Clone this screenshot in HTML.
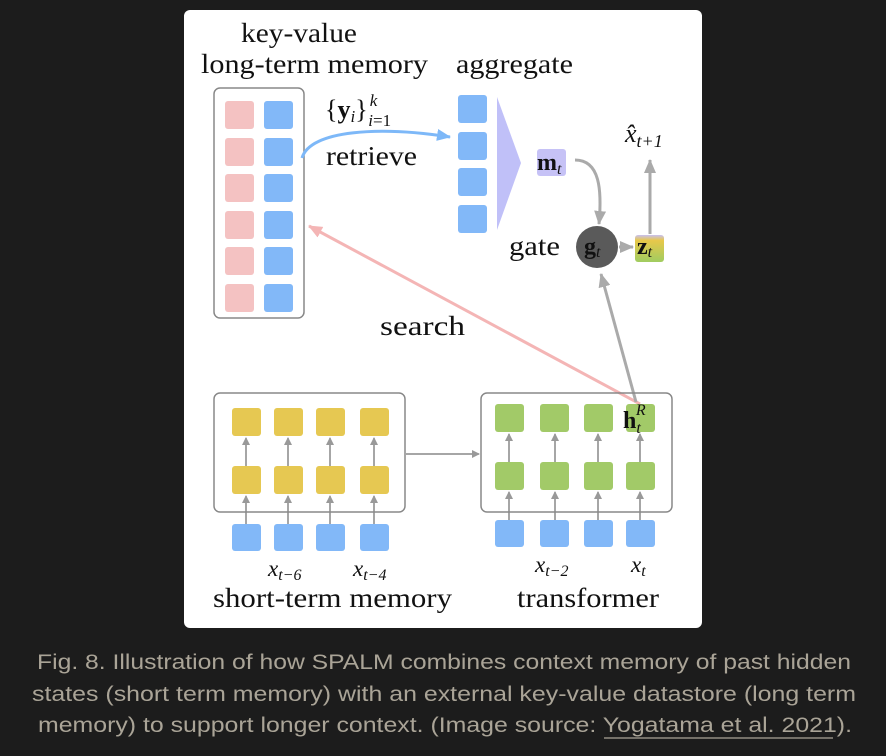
<!DOCTYPE html>
<html><head><meta charset="utf-8"><style>
html,body{margin:0;padding:0;background:#1c1c1c;}
svg{display:block}
.s{font-family:"Liberation Serif",serif;fill:#111}
.c{font-family:"Liberation Sans",sans-serif;fill:#aaa497;font-size:21px}
</style></head><body>
<svg width="886" height="756" viewBox="0 0 886 756" xmlns="http://www.w3.org/2000/svg">
<defs>
<marker id="ag" markerWidth="8" markerHeight="8" refX="7" refY="4" orient="auto" markerUnits="userSpaceOnUse"><path d="M0,0 L8,4 L0,8z" fill="#999"/></marker>
<marker id="agL" markerWidth="14" markerHeight="12" refX="13" refY="6" orient="auto" markerUnits="userSpaceOnUse"><path d="M0,0 L14,6 L0,12z" fill="#aaa"/></marker>
<marker id="ab" markerWidth="14" markerHeight="12" refX="13" refY="6" orient="auto" markerUnits="userSpaceOnUse"><path d="M0,0 L14,6 L0,12z" fill="#7db8f8"/></marker>
<marker id="ap" markerWidth="14" markerHeight="12" refX="13" refY="6" orient="auto" markerUnits="userSpaceOnUse"><path d="M0,0 L14,6 L0,12z" fill="#f4b5b5"/></marker>
<linearGradient id="zg" x1="0" y1="0" x2="0" y2="1"><stop offset="0" stop-color="#c8c0f0"/><stop offset="0.2" stop-color="#e8c84a"/><stop offset="1" stop-color="#a0cc60"/></linearGradient>
</defs>
<rect x="184" y="10" width="518" height="618" rx="6" fill="#fff"/>
<text class="s" x="241" y="42" font-size="27" textLength="116" lengthAdjust="spacingAndGlyphs">key-value</text>
<text class="s" x="201" y="73" font-size="27" textLength="227" lengthAdjust="spacingAndGlyphs">long-term memory</text>
<text class="s" x="456" y="73" font-size="27" textLength="117" lengthAdjust="spacingAndGlyphs">aggregate</text>
<rect x="214" y="88" width="90" height="230" rx="6" fill="none" stroke="#888" stroke-width="1.5"/>
<g fill="#f4c2c2">
<rect x="225" y="101" width="29" height="28" rx="3"/><rect x="225" y="138" width="29" height="28" rx="3"/><rect x="225" y="174" width="29" height="28" rx="3"/><rect x="225" y="211" width="29" height="28" rx="3"/><rect x="225" y="247" width="29" height="28" rx="3"/><rect x="225" y="284" width="29" height="28" rx="3"/></g>
<g fill="#82b8f8">
<rect x="264" y="101" width="29" height="28" rx="3"/><rect x="264" y="138" width="29" height="28" rx="3"/><rect x="264" y="174" width="29" height="28" rx="3"/><rect x="264" y="211" width="29" height="28" rx="3"/><rect x="264" y="247" width="29" height="28" rx="3"/><rect x="264" y="284" width="29" height="28" rx="3"/>
<rect x="458" y="95" width="29" height="28" rx="3"/><rect x="458" y="132" width="29" height="28" rx="3"/><rect x="458" y="168" width="29" height="28" rx="3"/><rect x="458" y="205" width="29" height="28" rx="3"/></g>
<polygon points="497,97 521,163 497,230" fill="#c0c0f8"/>
<rect x="537" y="149" width="29" height="27" rx="3" fill="#c6c2f6"/>
<text class="s" x="537" y="170" font-size="24" font-weight="bold">m<tspan font-size="16" font-style="italic" font-weight="normal" dy="4">t</tspan></text>
<path d="M302,158 C310,130 380,126 450,137" fill="none" stroke="#7db8f8" stroke-width="3" marker-end="url(#ab)"/>
<text class="s" x="325" y="118" font-size="26">{<tspan font-weight="bold">y</tspan><tspan font-style="italic" font-size="17" dy="4">i</tspan><tspan dy="-4">}</tspan><tspan font-style="italic" font-size="17" dx="2" dy="-12">k</tspan><tspan font-style="italic" font-size="17" dx="-9" dy="20">i</tspan><tspan font-size="17">=1</tspan></text>
<text class="s" x="326" y="165" font-size="27" textLength="91" lengthAdjust="spacingAndGlyphs">retrieve</text>
<text class="s" x="509" y="255" font-size="27" textLength="51" lengthAdjust="spacingAndGlyphs">gate</text>
<circle cx="597" cy="247" r="21" fill="#5a5a5a"/>
<text class="s" x="584" y="254" font-size="24" font-weight="bold" fill="#111">g<tspan font-size="16" font-style="italic" font-weight="normal" dy="3">t</tspan></text>
<rect x="635" y="235" width="29" height="27" rx="3" fill="url(#zg)"/>
<text class="s" x="637" y="254" font-size="24" font-weight="bold">z<tspan font-size="16" font-style="italic" font-weight="normal" dy="3">t</tspan></text>
<path d="M575,160 C600,160 602,190 599,224" fill="none" stroke="#aaa" stroke-width="3" marker-end="url(#agL)"/>
<line x1="619" y1="247" x2="633" y2="247" stroke="#aaa" stroke-width="3" marker-end="url(#agL)"/>
<line x1="650" y1="234" x2="650" y2="160" stroke="#aaa" stroke-width="3" marker-end="url(#agL)"/>
<text class="s" x="625" y="142" font-size="26" font-style="italic">x̂<tspan font-size="18" dy="5">t+1</tspan></text>
<line x1="640" y1="404" x2="309" y2="226" stroke="#f4b5b5" stroke-width="3" marker-end="url(#ap)"/>
<line x1="636" y1="402" x2="601" y2="274" stroke="#aaa" stroke-width="3" marker-end="url(#agL)"/>
<text class="s" x="380" y="335" font-size="27" textLength="85" lengthAdjust="spacingAndGlyphs">search</text>
<rect x="214" y="393" width="191" height="119" rx="6" fill="none" stroke="#888" stroke-width="1.5"/>
<rect x="481" y="393" width="191" height="119" rx="6" fill="none" stroke="#888" stroke-width="1.5"/>
<line x1="406" y1="454" x2="479" y2="454" stroke="#888" stroke-width="1.5" marker-end="url(#ag)"/>
<g fill="#e6c852">
<rect x="232" y="408" width="29" height="28" rx="3"/><rect x="274" y="408" width="29" height="28" rx="3"/><rect x="316" y="408" width="29" height="28" rx="3"/><rect x="360" y="408" width="29" height="28" rx="3"/>
<rect x="232" y="466" width="29" height="28" rx="3"/><rect x="274" y="466" width="29" height="28" rx="3"/><rect x="316" y="466" width="29" height="28" rx="3"/><rect x="360" y="466" width="29" height="28" rx="3"/></g>
<g fill="#a2ca68">
<rect x="495" y="404" width="29" height="28" rx="3"/><rect x="540" y="404" width="29" height="28" rx="3"/><rect x="584" y="404" width="29" height="28" rx="3"/><rect x="626" y="404" width="29" height="28" rx="3"/>
<rect x="495" y="462" width="29" height="28" rx="3"/><rect x="540" y="462" width="29" height="28" rx="3"/><rect x="584" y="462" width="29" height="28" rx="3"/><rect x="626" y="462" width="29" height="28" rx="3"/></g>
<g fill="#82b8f8">
<rect x="232" y="524" width="29" height="27" rx="3"/><rect x="274" y="524" width="29" height="27" rx="3"/><rect x="316" y="524" width="29" height="27" rx="3"/><rect x="360" y="524" width="29" height="27" rx="3"/>
<rect x="495" y="520" width="29" height="27" rx="3"/><rect x="540" y="520" width="29" height="27" rx="3"/><rect x="584" y="520" width="29" height="27" rx="3"/><rect x="626" y="520" width="29" height="27" rx="3"/></g>
<g stroke="#888" stroke-width="1.5" marker-end="url(#ag)">
<line x1="246" y1="524" x2="246" y2="496"/><line x1="288" y1="524" x2="288" y2="496"/><line x1="330" y1="524" x2="330" y2="496"/><line x1="374" y1="524" x2="374" y2="496"/>
<line x1="246" y1="466" x2="246" y2="438"/><line x1="288" y1="466" x2="288" y2="438"/><line x1="330" y1="466" x2="330" y2="438"/><line x1="374" y1="466" x2="374" y2="438"/>
<line x1="509" y1="520" x2="509" y2="492"/><line x1="555" y1="520" x2="555" y2="492"/><line x1="598" y1="520" x2="598" y2="492"/><line x1="640" y1="520" x2="640" y2="492"/>
<line x1="509" y1="462" x2="509" y2="434"/><line x1="555" y1="462" x2="555" y2="434"/><line x1="598" y1="462" x2="598" y2="434"/><line x1="640" y1="462" x2="640" y2="434"/>
</g>
<text class="s" x="623" y="428" font-size="24" font-weight="bold">h<tspan font-size="16" font-style="italic" font-weight="normal" dy="5">t</tspan><tspan font-size="16" font-style="italic" font-weight="normal" dx="-5" dy="-18">R</tspan></text>
<text class="s" x="268" y="576" font-size="23" font-style="italic">x<tspan font-size="16" dy="4">t−6</tspan></text>
<text class="s" x="353" y="576" font-size="23" font-style="italic">x<tspan font-size="16" dy="4">t−4</tspan></text>
<text class="s" x="535" y="572" font-size="23" font-style="italic">x<tspan font-size="16" dy="4">t−2</tspan></text>
<text class="s" x="631" y="572" font-size="23" font-style="italic">x<tspan font-size="16" dy="4">t</tspan></text>
<text class="s" x="213" y="607" font-size="27" textLength="239" lengthAdjust="spacingAndGlyphs">short-term memory</text>
<text class="s" x="517" y="607" font-size="27" textLength="142" lengthAdjust="spacingAndGlyphs">transformer</text>
<text class="c" x="37" y="669" textLength="814" lengthAdjust="spacingAndGlyphs">Fig. 8. Illustration of how SPALM combines context memory of past hidden</text>
<text class="c" x="32" y="701" textLength="824" lengthAdjust="spacingAndGlyphs">states (short term memory) with an external key-value datastore (long term</text>
<text class="c" x="38" y="732" textLength="814" lengthAdjust="spacingAndGlyphs">memory) to support longer context. (Image source: Yogatama et al. 2021).</text>
<line x1="604" y1="738" x2="833" y2="738" stroke="#aaa497" stroke-width="1.2"/>
</svg>
</body></html>
